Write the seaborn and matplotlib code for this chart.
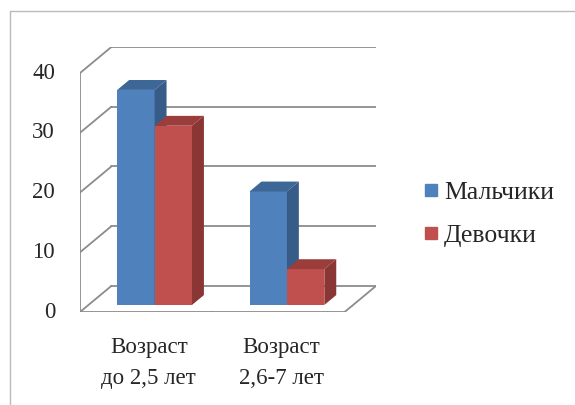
import seaborn as sns
import matplotlib.pyplot as plt
import pandas as pd
from matplotlib.patches import Polygon
from matplotlib.lines import Line2D
from matplotlib.transforms import offset_copy

# data
groups = ['Возраст\nдо 2,5 лет', 'Возраст\n2,6-7 лет']
series = ['Мальчики', 'Девочки']
boys = [36, 19]
girls = [30, 6]
y_ticks = [0, 10, 20, 30, 40]

front_col = {'Мальчики': '#4F81BD', 'Девочки': '#C0504D'}
top_col = {'Мальчики': '#3D6796', 'Девочки': '#9B3E3B'}
side_col = {'Мальчики': '#375C88', 'Девочки': '#8A3634'}
grid_c = '#8C8C8C'

df = pd.DataFrame({
	'group': groups * 2,
	'sex': [series[0]] * 2 + [series[1]] * 2,
	'value': boys + girls,
})

sns.set_style('white')
plt.rcParams['font.family'] = ['Liberation Serif', 'DejaVu Serif']

fig = plt.figure(figsize=(5.75, 4.05), dpi=100)

# depth of the 3d box in data units
DX = 0.237
DY = 4.36
f0, f1 = 0.27, 0.65   # bars sit between these depth fractions

ax = fig.add_axes([80 / 575, (405 - 312) / 405, (376 - 80) / 575, (312 - 47) / 405])
g = sns.barplot(data=df, x='group', y='value', hue='sex', palette=front_col,
				width=0.565, gap=0, saturation=1, ax=ax, legend=False)
ax.set_xlim(-0.5, 1.5 + DX)
ax.set_ylim(0, 40 + DY)
ax.axis('off')

# back wall gridlines + diagonals from the front axis
lab_tr = offset_copy(ax.transData, fig=fig, x=-18, y=0, units='points')
for v in y_ticks:
	ax.plot([-0.5 + DX, 1.5 + DX], [v + DY, v + DY], color=grid_c, lw=1.3, zorder=1)
	ax.plot([-0.5, -0.5 + DX], [v, v + DY], color=grid_c, lw=1.3, zorder=1)
	ax.plot([-0.5, -0.5 - 0.025], [v, v], color=grid_c, lw=1.3, zorder=1)
	ax.text(-0.5, v, str(v), ha='right', va='center', fontsize=16.5, transform=lab_tr)

# floor and front axis
ax.plot([-0.5, 1.5], [0, 0], color=grid_c, lw=1.3, zorder=1)
ax.plot([1.5, 1.5 + DX], [0, DY], color=grid_c, lw=1.3, zorder=1)
ax.plot([-0.5, -0.5], [-0.8, 40], color=grid_c, lw=1.3, zorder=1)
for xt in [-0.5, 0.5, 1.5]:
	ax.plot([xt, xt], [0, -0.8], color=grid_c, lw=1.3, zorder=1)

# category labels
for i, lab in enumerate(groups):
	ax.text(i + 0.02, -4.2, lab, ha='center', va='top', fontsize=16.5, linespacing=1.6)

# turn the flat bars into boxes, right-hand bar drawn over the left one
bdx = (f1 - f0) * DX
bdy = (f1 - f0) * DY
order = series[0:1] * len(groups) + series[1:2] * len(groups)
for p, sx in zip(list(ax.patches), order):
	z = 3 if sx == series[0] else 4
	p.set_x(p.get_x() + f0 * DX)
	p.set_y(f0 * DY)
	p.set_zorder(z)
	x, y, w, h = p.get_x(), p.get_y(), p.get_width(), p.get_height()
	p.set_linewidth(0)
	top = Polygon([(x, y + h), (x + w, y + h), (x + w + bdx, y + h + bdy), (x + bdx, y + h + bdy)],
				  closed=True, facecolor=top_col[sx], lw=0, zorder=z)
	side = Polygon([(x + w, y), (x + w, y + h), (x + w + bdx, y + h + bdy), (x + w + bdx, y + bdy)],
				   closed=True, facecolor=side_col[sx], lw=0, zorder=z)
	ax.add_patch(top)
	ax.add_patch(side)

# legend
handles = [Line2D([], [], marker='s', ls='', markersize=8, color=front_col[s]) for s in series]
fig.legend(handles, series, loc='center left', bbox_to_anchor=(395 / 575, 1 - 214 / 405),
		   frameon=False, fontsize=18.5, handletextpad=0.0, labelspacing=0.8, handlelength=1.0)

# outer frame lines (left and top only)
fig.add_artist(Line2D([9.5 / 575, 9.5 / 575], [0, 1 - 11 / 405], color='#BBBBBB', lw=1))
fig.add_artist(Line2D([9.5 / 575, 1], [1 - 11 / 405, 1 - 11 / 405], color='#BBBBBB', lw=1))

fig.savefig('out.png', dpi=100)
